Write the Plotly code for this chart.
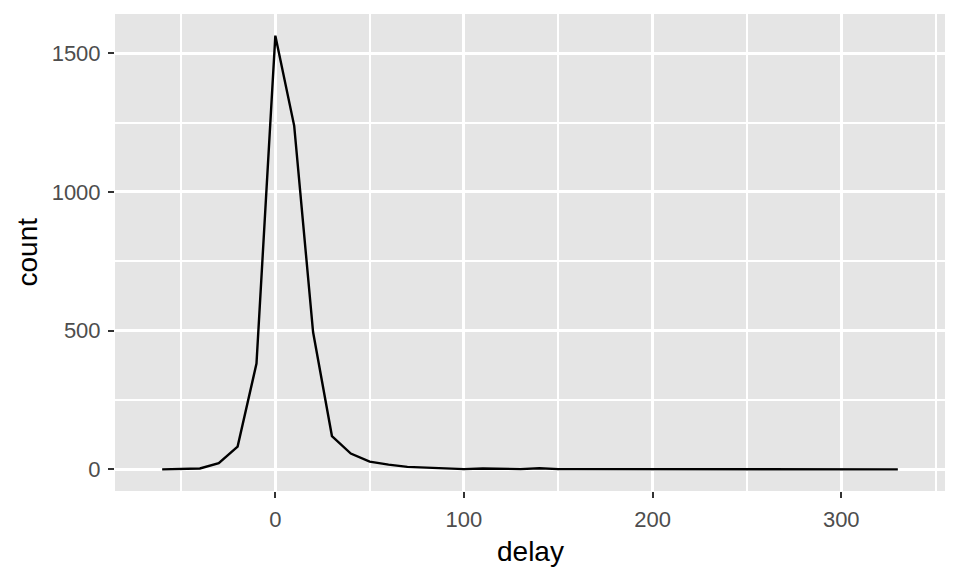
import plotly.graph_objects as go

delay = [-60, -50, -40, -30, -20, -10, 0, 10, 20, 30, 40, 50, 60, 70, 80, 90,
         100, 110, 120, 130, 140, 150, 160, 170, 180, 190, 200, 210, 220, 230,
         240, 250, 260, 270, 280, 290, 300, 310, 320, 330]
count = [0, 2, 3, 22, 82, 381, 1563, 1238, 495, 120, 57, 28, 17, 9, 6, 5,
         1, 3, 2, 1, 4, 1, 1, 1, 1, 1, 1, 0, 1, 0,
         0, 0, 1, 0, 1, 1, 0, 0, 1, 0]

x_range = [-85, 355]
y_range = [-78, 1641]

FONT = "Liberation Sans, Arial, sans-serif"

# The page body has an 8px margin, so the figure is drawn at (8, 8).
W, H = 952, 568
ML, MR, MT, MB = 107, 15, 6, 85

fig = go.Figure()
fig.add_trace(go.Scatter(x=delay, y=count, mode="lines",
                         line=dict(color="black", width=2.4),
                         showlegend=False, hoverinfo="x+y"))

axis_common = dict(
    showline=False, zeroline=False, automargin=False,
    gridcolor="white", gridwidth=2.6,
    ticks="outside", ticklen=6, tickwidth=2, tickcolor="#333333",
    ticklabelstandoff=3,
    tickfont=dict(family=FONT, size=22, color="#4D4D4D"),
)

pw = W - ML - MR
ph = H - MT - MB

fig.update_layout(
    width=W, height=H,
    paper_bgcolor="white", plot_bgcolor="#E5E5E5",
    margin=dict(l=ML, r=MR, t=MT, b=MB),
    xaxis=dict(range=x_range, tickvals=[0, 100, 200, 300],
               minor=dict(tickvals=[-50, 50, 150, 250, 350], showgrid=True,
                          gridcolor="white", gridwidth=1.5, ticks=""),
               **axis_common),
    yaxis=dict(range=y_range, tickvals=[0, 500, 1000, 1500],
               minor=dict(tickvals=[250, 750, 1250], showgrid=True,
                          gridcolor="white", gridwidth=1.5, ticks=""),
               **axis_common),
    annotations=[
        dict(text="delay", x=0.5, xref="paper",
             y=(H - MB - 543) / ph, yref="paper",
             showarrow=False, font=dict(family=FONT, size=28, color="black"),
             yanchor="middle", xanchor="center"),
        dict(text="count", x=(19 - ML) / pw, xref="paper", y=0.5, yref="paper",
             showarrow=False, textangle=-90,
             font=dict(family=FONT, size=28, color="black"),
             xanchor="center", yanchor="middle"),
    ],
)

fig.write_html("out.html")
